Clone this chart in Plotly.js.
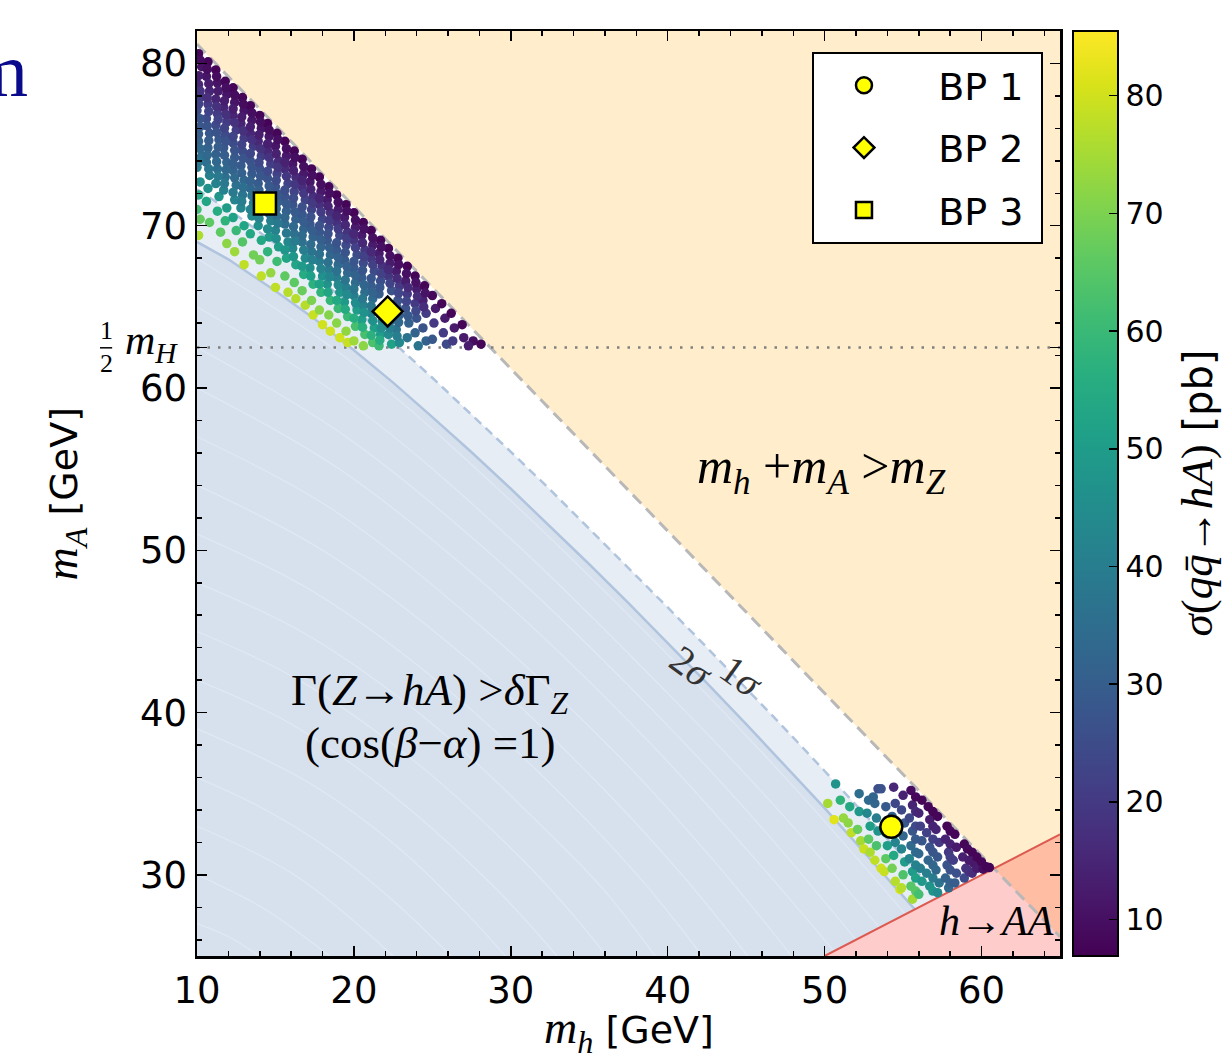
<!DOCTYPE html>
<html><head><meta charset="utf-8">
<script src="https://cdn.plot.ly/plotly-3.0.1.min.js"></script>
<style>html,body{margin:0;padding:0;background:#fff;} #chart{width:1232px;height:1064px;}</style>
</head><body><div id="chart"></div>
<script>
// ---------------- data ----------------
// allowed scan points, upper cluster (m_h, m_A in GeV; sigma in pb)
const topMh = [
10.1,10.3,10.1,10.2,10.0,10.2,10.1,10.3,10.0,10.2,10.1,10.0,10.2,10.1,
10.7,10.6,10.8,10.7,10.6,10.8,10.7,10.6,10.8,10.7,10.6,10.8,
11.2,11.3,11.2,11.3,11.2,11.4,11.2,11.3,11.2,11.4,11.3,11.5,
11.8,11.9,11.7,11.9,11.8,11.7,11.9,11.8,11.7,11.9,11.8,11.9,
12.3,12.4,12.3,12.5,12.3,12.4,12.3,12.5,12.4,12.3,12.5,12.4,
12.9,13.0,12.8,13.0,12.9,12.8,13.0,12.9,12.8,13.0,12.9,13.0,
13.4,13.5,13.4,13.6,13.4,13.5,13.4,13.6,13.5,13.4,13.6,
14.0,14.1,13.9,14.1,14.0,13.9,14.1,14.0,13.9,14.1,14.0,14.1,
14.5,14.6,14.5,14.7,14.5,14.6,14.5,14.7,14.6,14.5,14.7,
15.1,15.0,15.2,15.1,15.0,15.2,15.1,15.0,15.2,15.1,15.0,
15.6,15.7,15.6,15.8,15.6,15.7,15.6,15.8,15.7,15.6,15.8,
16.2,16.1,16.3,16.2,16.1,16.3,16.2,16.1,16.3,16.2,16.3,
16.7,16.8,16.7,16.9,16.7,16.8,16.7,16.9,16.8,16.7,16.9,
17.3,17.2,17.4,17.3,17.2,17.4,17.3,17.2,17.4,17.3,17.4,
17.8,17.9,17.8,18.0,17.8,17.9,17.8,18.0,17.9,17.8,18.0,
18.4,18.3,18.5,18.4,18.3,18.5,18.4,18.3,18.5,18.4,18.5,
18.9,19.0,18.9,19.1,18.9,19.0,18.9,19.1,19.0,18.9,19.1,
19.5,19.4,19.6,19.5,19.4,19.6,19.5,19.4,19.6,19.5,19.6,
20.0,20.1,20.0,20.2,20.0,20.1,20.0,20.2,20.1,20.0,
20.6,20.5,20.7,20.6,20.5,20.7,20.6,20.5,20.7,20.6,
21.1,21.2,21.1,21.3,21.1,21.2,21.1,21.3,21.2,
21.7,21.6,21.8,21.7,21.6,21.8,21.7,21.6,
22.2,22.3,22.2,22.4,22.3,22.2,22.4,
22.8,22.7,22.9,22.8,22.9,22.7,22.9,
23.4,23.3,23.4,23.3,23.5,23.4,
23.9,24.0,23.9,24.0,23.9,24.1,
24.5,24.4,24.6,24.4,24.6,
25.0,25.2,25.1,25.0,
25.6,25.8,25.7,25.9,
26.2,26.4,26.3,
26.9,27.0,
27.6,28.1,27.3,
10.2,10.1,10.2,10.1,10.2,10.1,10.2,10.1,
10.65,10.75,10.65,10.75,10.65,10.75,10.65,10.75,
11.25,11.35,11.25,11.35,11.25,11.35,11.25,11.35,
11.85,11.75,11.85,11.75,11.85,11.75,11.85,11.75,
12.4,12.3,12.4,12.3,12.4,12.3,12.4,12.3,
12.95,12.85,12.95,12.85,12.95,12.85,12.95,12.85,
13.5,13.4,13.5,13.4,13.5,13.4,13.5,13.4,
14.05,13.95,14.05,13.95,14.05,13.95,14.05,13.95,
14.6,14.5,14.6,14.5,14.6,14.5,14.6,14.5,
15.15,15.05,15.15,15.05,15.15,15.05,15.15,15.05,
15.7,15.6,15.7,15.6,15.7,15.6,15.7,15.6,
16.25,16.15,16.25,16.15,16.25,16.15,16.25,16.15,
16.8,16.7,16.8,16.7,16.8,16.7,16.8,16.7,
17.35,17.25,17.35,17.25,17.35,17.25,17.35,17.25,
17.9,17.8,17.9,17.8,17.9,17.8,17.9,17.8,
18.45,18.35,18.45,18.35,18.45,18.35,18.45,18.35,
19.0,18.9,19.0,18.9,19.0,18.9,19.0,18.9,
19.55,19.45,19.55,19.45,19.55,19.45,19.55,19.45,
20.1,20.0,20.1,20.0,20.1,20.0,20.1,20.0,
20.65,20.55,20.65,20.55,20.65,20.55,20.65,20.55,
21.2,21.1,21.2,21.1,21.2,21.1,21.2,21.1,
21.75,21.65,21.75,21.65,21.75,21.65,
22.3,22.2,22.3,22.3,
22.85,22.75,22.85,22.75,22.85,22.75,
23.35,23.45,23.35,23.45,
23.95,24.05,23.95,
24.55,24.45];
const topMA = [
80.6,79.8,78.7,77.9,77.1,76.1,75.2,74.3,73.6,72.7,71.9,71.0,70.4,69.4,
80.1,79.2,78.3,77.5,76.6,75.7,74.8,73.9,73.1,72.3,71.5,70.2,
79.6,78.8,77.8,76.9,76.2,75.3,74.4,73.5,72.6,71.8,70.9,69.6,
78.9,78.1,77.3,76.4,75.6,74.8,73.9,73.0,72.2,71.1,70.3,68.9,
78.5,77.6,76.8,75.9,75.1,74.2,73.4,72.5,71.6,70.5,69.7,68.4,
77.9,77.1,76.3,75.4,74.6,73.7,72.8,71.9,71.1,70.0,69.0,67.6,
77.4,76.5,75.7,74.9,74.0,73.2,72.3,71.4,70.6,69.5,68.2,
76.8,76.0,75.2,74.3,73.5,72.6,71.8,70.9,70.0,69.1,67.9,66.9,
76.3,75.5,74.6,73.8,72.9,72.0,71.2,70.3,69.3,68.4,67.1,
75.7,74.9,74.0,73.2,72.4,71.5,70.6,69.7,68.7,67.8,66.2,
75.2,74.3,73.5,72.6,71.8,70.9,70.1,69.0,68.0,66.9,65.9,
74.6,73.8,73.0,72.1,71.3,70.4,69.5,68.6,67.6,66.5,65.5,
74.1,73.2,72.4,71.6,70.7,69.8,69.0,68.0,67.0,66.0,65.1,
73.5,72.7,71.8,71.0,70.1,69.3,68.4,67.4,66.4,65.4,64.5,
73.0,72.1,71.3,70.4,69.6,68.7,67.8,66.9,65.9,64.8,63.9,
72.4,71.6,70.8,69.9,69.1,68.2,67.3,66.4,65.4,64.5,63.5,
71.9,71.0,70.2,69.4,68.5,67.6,66.8,65.9,64.9,64.0,63.1,
71.3,70.5,69.6,68.8,67.9,67.1,66.2,65.3,64.4,63.5,62.8,
70.8,69.9,69.1,68.2,67.4,66.5,65.7,64.8,63.8,62.9,
70.2,69.4,68.5,67.7,66.8,65.9,65.1,64.2,63.3,62.6,
69.7,68.8,68.0,67.2,66.3,65.5,64.6,63.7,62.8,
69.1,68.3,67.5,66.6,65.8,64.1,63.3,62.6,
68.6,67.7,66.9,66.0,64.1,63.3,62.7,
68.0,67.2,66.3,65.4,64.5,63.6,62.8,
67.5,66.6,65.8,64.9,64.0,63.1,
66.9,66.1,65.2,64.3,63.4,62.6,
66.3,65.4,64.6,63.7,62.9,
65.7,64.9,64.0,63.0,
65.2,64.3,63.4,62.7,
64.6,63.7,62.9,
63.9,63.1,
62.9,62.7,62.6,
80.2,79.25,78.3,77.5,76.6,75.65,74.75,73.95,
79.65,78.75,77.9,77.05,76.15,75.25,74.35,73.5,
79.2,78.3,77.35,76.55,75.75,74.85,73.95,73.05,
78.5,77.7,76.85,76.0,75.2,74.35,73.45,72.6,
78.05,77.2,76.35,75.5,74.65,73.8,72.95,72.05,
77.5,76.7,75.85,75.0,74.15,73.25,72.35,71.5,
76.95,76.1,75.3,74.45,73.6,72.75,71.85,71.0,
76.4,75.6,74.75,73.9,73.05,72.2,71.35,70.45,
75.9,75.05,74.2,73.35,72.45,71.6,70.75,69.8,
75.3,74.45,73.6,72.8,71.95,71.05,70.15,69.2,
74.75,73.9,73.05,72.2,71.35,70.5,69.55,68.5,
74.2,73.4,72.55,71.7,70.85,69.95,69.05,68.1,
73.65,72.8,72.0,71.15,70.25,69.4,68.5,67.5,
73.1,72.25,71.4,70.55,69.7,68.85,67.9,66.9,
72.55,71.7,70.85,70.0,69.15,68.25,67.35,66.4,
72.0,71.2,70.35,69.5,68.65,67.75,66.85,65.9,
71.45,70.6,69.8,68.95,68.05,67.2,66.35,65.4,
70.9,70.05,69.2,68.35,67.5,66.65,65.75,64.85,
70.35,69.5,68.65,67.8,66.95,66.1,65.25,64.3,
69.8,68.95,68.1,67.25,66.35,65.5,64.65,63.75,
69.25,68.4,67.6,66.75,65.9,65.05,64.15,63.25,
68.7,67.9,67.05,66.2,63.7,62.95,
68.15,67.3,66.45,63.7,
67.6,66.75,65.85,64.95,64.05,63.2,
67.05,66.2,65.35,64.45,
66.5,65.65,64.75,
65.85,65.0];
const topSigma = [
7.9,10.8,15.4,20.5,24.3,28.3,31.8,35.3,40.6,46,53,61,67,76,
7.7,11.1,14.8,19.8,24.7,28.3,31.4,35.3,40.6,46.5,53,66,
7.6,10.8,14.8,20.5,24.3,28.3,31.4,35.3,41.7,48,55.5,66,
8.0,11.2,14.8,20.5,25,28.3,31.8,35.7,41.3,50,58,72,
7.6,11.2,14.8,20.5,25,28.6,31.8,36,42,52,60,74,
7.9,11.1,14.8,20.5,25,29,32.8,37.4,43,53,64.5,78,
7.6,11.5,15.4,20.5,26.5,29,32.8,39.2,44,54,68.5,
7.9,11.2,15.4,21.3,26.5,29.3,33.2,39.2,46,54,68.5,78,
7.6,11.2,15.7,21.3,26.9,30.4,33.9,40.6,49,58,73,
7.9,11.5,16.3,22,26.9,30.4,35,41.7,50,61,78,
7.6,11.8,16,22.8,27.3,30.7,35,43,53,66,77,
7.9,11.5,16,22.8,27.3,31.1,36,43,53,66,77,
7.6,12,16.8,22.8,28.2,31.8,36,44,55.5,67.5,77,
7.9,11.8,17.5,22.8,28.3,31.8,37,46,57,70,79,
7.6,12.1,17.5,23.5,28.3,32.5,39.2,46.5,58,72,80,
7.9,12.1,17.2,23.5,28.3,32.8,39.2,47,59,71,80,
7.6,12.4,17.5,23.5,28.6,33.2,40,48,60,71.5,80,
7.9,12.3,18.3,24.3,29,33.2,40.6,49,60,72.5,79,
7.6,12.6,18.3,25,29,33.9,40.6,50,62.5,74,
7.9,12.4,19,25,29.7,35,41.7,51,62.5,72,
7.6,12.7,19,25,29.7,34.3,41.7,51,63.5,
7.9,12.6,18.3,25.8,29.7,41.7,50,60,
7.6,13,19,26.5,36.7,44.5,52,
7.9,12.6,19.8,26.7,30.7,36.7,44,
7.6,13,19.8,26.7,31.1,37,
7.9,13,20.2,27.2,31.6,37,
7.9,13.8,20.5,27.3,31.4,
8.2,12.4,19.8,28.3,
7.9,12.6,20.5,25,
7.9,12.6,20.5,
7.9,12.6,
9.3,7.9,13,
9.3,13,18,22.3,26.9,30,33.5,37.8,
9.4,13,17.2,22.2,27,29.8,33.3,37.8,
9.1,12.7,17.7,22.3,26.9,29.8,33.3,38.5,
9.6,13,17.7,22.8,27.1,30,33.6,38.5,
9.4,13,17.7,22.8,27.3,30.1,33.9,39,
9.4,13,17.7,22.8,27.5,30.9,35.1,40,
9.6,13.5,18,23.5,27.9,30.9,36,41.3,
9.6,13.3,18.3,23.8,28.2,31.2,36.1,42,
9.4,13.5,18.4,24.3,28.6,32.1,37,44.5,
9.7,13.9,19.2,24.6,28.6,32.6,38.3,45.7,
9.7,13.9,19.3,25.3,29,32.8,38.8,48,
9.7,13.8,19.3,25.3,29.1,33.5,39.3,48,
9.7,14.4,19.8,26.1,29.8,33.9,39.8,49.7,
9.9,14.7,20.1,26.5,30,34.4,40.9,51.5,
9.9,14.8,20.5,26.7,30.4,35.8,42.2,52,
10,14.7,20.4,26.7,30.5,36,42.5,53,
10,15,20.5,26.9,30.9,36.5,43.5,54,
10,15.3,21.3,27.3,31.1,36.8,44.5,54.5,
10,15.4,21.6,27.5,31.4,37.2,45,56,
10.1,15.7,22,27.9,32.3,38.3,46.2,56.7,
10.1,15.9,22,27.9,31.9,37.9,46.2,57,
10.1,15.4,22,28.2,45.7,55,
10.3,16,22.8,40.3,
10.1,16.2,23.4,28.7,33.6,40.1,
10.3,16.3,23.4,28.9,
10.4,16.6,24,
10.8,17.1];

// allowed scan points, lower cluster
const lowMh = [
50.2,50.6,50.7, 51.0,51.2, 51.6,51.5,51.7,
52.2,52.2,52.1,52.3,52.5, 52.8,52.7,52.9,52.8,52.9,
53.4,53.2,53.3,53.4,53.3,53.2,53.6,53.1,
53.9,53.9,54.0,53.9,53.8,53.6,
54.4,54.5,54.3,54.5,54.4,54.3,54.5,54.8,
55.0,54.9,55.1,55.0,54.9,55.1,55.0,54.9,
55.5,55.6,55.4,55.6,55.5,55.4,55.6,55.5,55.6,
55.8,55.8,55.8,55.8,55.8,55.8,55.8,55.8,
56.2,56.0,56.1,56.2,56.0,56.1,56.2,56.0,
56.6,56.7,56.5,56.7,56.6,56.5,56.7,
56.9,56.9,56.9,56.9,56.9,56.9,56.9,
57.2,57.1,57.3,57.2,57.1,57.3,57.2,
57.8,57.7,57.9,57.8,57.7,57.9,
58.0,58.0,58.0,58.0,58.0,
58.3,58.4,58.2,58.4,58.3,
58.9,58.8,59.0,58.9,
59.1,59.2,59.2,
59.4,59.5,59.4,
59.7,59.7,
60.0,60.1,60.3,60.5];
const lowMA = [
34.4,33.4,35.6, 34.6,33.5, 34.2,33.2,32.6,
35.0,33.9,32.8,32.1,31.6, 34.6,33.8,33.0,32.2,31.4,
35.3,34.4,33.5,32.7,31.8,30.9,30.4,34.8,
34.2,32.6,31.8,31.0,30.2,35.3,
35.4,34.4,33.6,32.0,31.2,30.4,29.6,29.1,
34.9,34.0,33.2,32.4,31.6,30.8,30.0,29.2,
35.2,34.3,33.5,32.7,31.8,31.0,30.2,29.3,28.5,
34.8,33.9,33.0,32.2,31.4,30.6,29.8,29.0,
34.6,33.8,33.0,32.1,31.3,30.4,29.6,28.8,
34.2,33.4,32.6,31.7,30.9,30.1,29.3,
33.9,33.0,32.2,31.4,30.6,29.8,29.0,
33.6,32.8,32.0,31.1,30.3,29.5,28.9,
33.0,32.2,31.4,30.6,29.8,29.2,
32.7,31.9,31.1,30.3,29.5,
32.5,31.7,30.9,30.1,29.5,
31.9,31.1,30.4,29.8,
31.6,30.9,30.2,
31.4,30.7,30.1,
31.1,30.4,
30.8,30.35,30.5,30.45];
const lowSigma = [
75,82,47, 58,73, 54,72,78,
35.3,49,67.5,75,79, 34.3,43,51,66,76,
25.8,32.5,40,47,63,78,80,32.1,
29,42,51,66,79,26.5,
15.4,23.5,30.4,42,54,69,77,80,
14.5,23.5,28.2,33.2,42,50,63.5,77,
9.3,14.5,23.5,27.7,33.9,42,50,65,75,
8.5,16,24.3,29,34.3,41.7,52,65,
7.9,14.8,22,27.7,33.5,40.6,49,62,
7.9,12.6,22,27.3,32.5,40.6,47,
7.9,14.5,22,27.7,32.5,39.2,48,
7.9,14.5,19.8,27.7,32.8,36.7,44,
7.9,14.5,19.8,26.9,31.4,33.9,
8.2,14.5,21.3,27.3,31.4,
7.9,12.6,21.3,26.2,29.7,
7.9,13.8,18.3,24.3,
8.2,12.6,18.3,
7.9,11.8,16.8,
7.9,12.6,
7.9,9.7,7.9,7.5];

// benchmark points
const bpNames = ['BP 1', 'BP 2', 'BP 3'];
const bpSymbols = ['circle', 'diamond', 'square'];
const bpMh = [54.25, 22.15, 14.33];
const bpMA = [32.96, 64.72, 71.37];

// exclusion boundaries
const kinMh = [10, 65];            // m_h + m_A = m_Z
const kinMA = [81.19, 26.19];
const aaMh = [50, 65];             // m_A = m_h / 2
const aaMA = [25, 32.5];
const halfMH = 62.5;               // m_A = m_H / 2
const sig2Mh = [10,12,15,17.5,20,22.5,25,27.5,30,32.5,35,37.5,40,42.5,45,47.5,50,52,54,55.75];
const sig2MA = [69.0,67.93,65.98,64.25,62.33,60.33,58.21,56.04,53.79,51.49,49.14,46.74,44.30,41.82,39.29,36.71,34.11,31.96,29.79,27.87];
const sig1Mh = [10,12.5,15,17.5,20,22.5,25,27.5,30,32.5,35,37.5,40,42.5,45,47.5,50,52.5,55,57.3];
const sig1MA = [72.24,70.66,68.89,66.98,64.92,62.82,60.63,58.38,56.07,53.74,51.34,48.93,46.48,44.01,41.50,38.97,36.40,33.80,31.16,28.65];
// faint level seams inside the excluded region
const seamMh = [
  [10,12,13.95], [10,14.3,18.45], [10,16.2,22.5], [10,14,18.4,22.4,26.2], [10,17,22.8,27.4,29.65],
  [10,16,22.6,29.1,32.95], [10,16.5,24,30.84,34,36.1], [10,17,25,32.5,36,39.2], [10,17.5,26,34.1,38.5,42.2],
  [10,18,27,35.6,41,45.1], [10,18.5,28,37.1,43,47.9], [10,19,29,38.5,45,50.6], [10,19.5,29.5,39.6,46,52],
  [10,20,30,40.6,47,53.5], [10,20,30,41.8,48,55.15]];
const seamMA = [
  [27,26.2,25], [30,27.9,25], [33,30,25], [36,34.2,31.6,28.5,25], [39,35.75,31.7,27.4,25],
  [42,39.3,34.8,29.1,25], [45,42,36.9,30.84,27.5,25], [48,44.8,39.3,32.5,29,25], [51,47.4,41.4,34.1,29.5,25],
  [54,50,43.5,35.6,29.9,25], [57,52.6,45.4,37.1,30.8,25], [60,55.05,47.35,38.5,31.6,25.3], [62.5,57,49.1,39.6,32.9,26],
  [65,58.9,50.7,40.6,34.05,26.75], [68,61.5,53.05,41.8,35.45,27.58]];

const xRange = [10, 65];
const yRange = [25, 82];
const xTicks = [10, 20, 30, 40, 50, 60];
const yTicks = [30, 40, 50, 60, 62.5, 70, 80];
const yTickText = ['30', '40', '50', '60', '', '70', '80'];
const sigmaRange = [6.9, 85.5];
const cbTicks = [10, 20, 30, 40, 50, 60, 70, 80];

// ---------------- figure ----------------
const SERIF = 'Liberation Serif';
const SANS = 'DejaVu Sans';
const noHover = {hoverinfo: 'skip', showlegend: false};

const traces = [];
traces.push(Object.assign({type: 'scatter', mode: 'none', fill: 'toself', fillcolor: '#ffedcc',
  x: [kinMh[0], kinMh[1], xRange[1], kinMh[0]], y: [kinMA[0], kinMA[1], yRange[1], yRange[1]]}, noHover));
traces.push(Object.assign({type: 'scatter', mode: 'none', fill: 'toself', fillcolor: '#d7e1ee',
  x: [xRange[0]].concat(sig2Mh, [aaMh[0], xRange[0]]), y: [yRange[0]].concat(sig2MA, [aaMA[0], yRange[0]])}, noHover));
for (let i = 0; i < seamMh.length; i++) {
  traces.push(Object.assign({type: 'scatter', mode: 'lines', x: seamMh[i], y: seamMA[i],
    line: {color: '#e0e8f3', width: 1.2, shape: 'spline', smoothing: 1}}, noHover));
}
traces.push(Object.assign({type: 'scatter', mode: 'none', fill: 'toself', fillcolor: '#e7edf5',
  x: sig1Mh.concat(sig2Mh.slice().reverse()), y: sig1MA.concat(sig2MA.slice().reverse())}, noHover));
traces.push(Object.assign({type: 'scatter', mode: 'none', fill: 'toself', fillcolor: 'rgba(255,0,0,0.2)',
  x: [aaMh[0], aaMh[1], aaMh[1]], y: [aaMA[0], aaMA[1], yRange[0]]}, noHover));
traces.push(Object.assign({type: 'scatter', mode: 'lines', x: sig2Mh, y: sig2MA,
  line: {color: '#b0c4de', width: 2.5}}, noHover));
traces.push(Object.assign({type: 'scatter', mode: 'lines', x: sig1Mh, y: sig1MA,
  line: {color: '#b0c4de', width: 2.5, dash: '9px,6px'}}, noHover));
traces.push(Object.assign({type: 'scatter', mode: 'lines', x: kinMh, y: kinMA,
  line: {color: '#b8b8b8', width: 3, dash: '12px,7px'}}, noHover));
traces.push(Object.assign({type: 'scatter', mode: 'lines', x: aaMh, y: aaMA,
  line: {color: '#dc5a50', width: 2}}, noHover));
traces.push(Object.assign({type: 'scatter', mode: 'lines', x: xRange, y: [halfMH, halfMH],
  line: {color: '#808080', width: 2.5, dash: '2.5px,8px'}}, noHover));

const markerBase = {colorscale: 'Viridis', cmin: sigmaRange[0], cmax: sigmaRange[1], size: 9.5, line: {width: 0}};
traces.push(Object.assign({type: 'scatter', mode: 'markers', x: topMh, y: topMA,
  marker: Object.assign({}, markerBase, {color: topSigma, showscale: true,
    colorbar: {x: 1.0151, xanchor: 'left', xpad: 0, ypad: 0, y: 0.5, yanchor: 'middle', len: 1, lenmode: 'fraction',
      thickness: 45, outlinewidth: 2, outlinecolor: '#000', ticks: 'inside', ticklen: 10, tickwidth: 1.5, tickcolor: '#000',
      tickvals: cbTicks, tickfont: {size: 30, family: SANS, color: '#000'}}})}, noHover));
traces.push(Object.assign({type: 'scatter', mode: 'markers', x: lowMh, y: lowMA,
  marker: Object.assign({}, markerBase, {color: lowSigma, showscale: false})}, noHover));

const bpSizes = [22, 23, 22];
for (let i = 0; i < bpNames.length; i++) {
  traces.push({type: 'scatter', mode: 'markers', name: '\u00a0\u00a0' + bpNames[i] + '\u00a0', legendgroup: 'g' + i,
    x: [bpMh[i]], y: [bpMA[i]], hoverinfo: 'skip',
    marker: {symbol: bpSymbols[i], size: bpSizes[i], color: '#ffff00', line: {color: '#000', width: 2.5}}});
}

const axisCommon = {
  showgrid: false, zeroline: false, showline: true, linewidth: 2.5, linecolor: '#000', mirror: 'ticks',
  ticks: 'inside', ticklen: 10, tickwidth: 1.5, tickcolor: '#000',
  tickfont: {size: 37, family: SANS, color: '#000'},
  minor: {tickmode: 'linear', tick0: 0, dtick: 2, ticks: 'inside', ticklen: 5, tickwidth: 1.5, tickcolor: '#000'}
};

const annotations = [
  {xref: 'x', yref: 'y', x: 49.8, y: 54.96, showarrow: false, font: {family: SERIF, size: 50, color: '#000'},
   text: '<i>m</i><sub><i>h</i></sub> +<i>m</i><sub><i>A</i></sub> ><i>m</i><sub><i>Z</i></sub>'},
  {xref: 'x', yref: 'y', x: 24.84, y: 41.2, showarrow: false, font: {family: SERIF, size: 45, color: '#000'},
   text: 'Γ(<i>Z</i>→<i>hA</i>) ><i>δ</i>Γ<sub><i>Z</i></sub>'},
  {xref: 'x', yref: 'y', x: 24.9, y: 38.12, showarrow: false, font: {family: SERIF, size: 45, color: '#000'},
   text: '(cos(<i>β</i>−<i>α</i>) =1)'},
  {xref: 'x', yref: 'y', x: 41.5, y: 42.85, showarrow: false, textangle: 36, font: {family: SERIF, size: 40, color: '#333'},
   text: '2<i>σ</i>'},
  {xref: 'x', yref: 'y', x: 44.7, y: 42.25, showarrow: false, textangle: 36, font: {family: SERIF, size: 40, color: '#333'},
   text: '1<i>σ</i>'},
  {xref: 'x', yref: 'y', x: 60.96, y: 27.18, showarrow: false, font: {family: SERIF, size: 42, color: '#000'},
   text: '<i>h</i>→<i>AA</i>'},
  // 1/2 m_H label beside the axis
  {xref: 'paper', yref: 'paper', x: -0.1054, y: 0.6766, xanchor: 'center', yanchor: 'middle', showarrow: false,
   font: {family: SERIF, size: 26, color: '#000'}, text: '1'},
  {xref: 'paper', yref: 'paper', x: -0.1054, y: 0.6405, xanchor: 'center', yanchor: 'middle', showarrow: false,
   font: {family: SERIF, size: 26, color: '#000'}, text: '2'},
  {xref: 'paper', yref: 'y', x: -0.0197, y: 62.75, xanchor: 'right', yanchor: 'middle', showarrow: false,
   font: {family: SERIF, size: 42, color: '#000'}, text: '<i>m</i><sub><i>H</i></sub>'},
  {xref: 'paper', yref: 'paper', x: 0.5, y: -0.0806, xanchor: 'center', yanchor: 'middle', showarrow: false,
   font: {family: SANS, size: 38, color: '#000'},
   text: '<span style="font-family:Liberation Serif;font-size:46px"><i>m</i><sub><i>h</i></sub></span> [GeV]'},
  {xref: 'paper', yref: 'paper', x: -0.153, y: 0.5, xanchor: 'center', yanchor: 'middle', textangle: -90, showarrow: false,
   font: {family: SANS, size: 38, color: '#000'},
   text: '<span style="font-family:Liberation Serif;font-size:46px"><i>m</i><sub><i>A</i></sub></span> [GeV]'},
  {xref: 'paper', yref: 'paper', x: 1.1576, y: 0.5, xanchor: 'center', yanchor: 'middle', textangle: -90, showarrow: false,
   font: {family: SANS, size: 40, color: '#000'},
   text: '<span style="font-family:Liberation Serif;font-size:45px"><i>σ</i>(<i>q</i><i>q̄</i>→<i>hA</i>)</span> [pb]'},
  {xref: 'paper', yref: 'paper', x: -0.193, y: 0.9578, xanchor: 'right', yanchor: 'middle', showarrow: false,
   font: {family: SERIF, size: 76, color: '#0a0a8c'}, text: 'm'}
];

const shapes = [
  {type: 'line', xref: 'paper', yref: 'paper', x0: -0.1124, x1: -0.0983, y0: 0.6575, y1: 0.6575,
   line: {color: '#000', width: 1.5}}
];

const layout = {
  width: 1232, height: 1064,
  margin: {l: 197, r: 172, t: 31, b: 108, pad: 0},
  paper_bgcolor: '#fff', plot_bgcolor: '#fff',
  font: {family: SANS, color: '#000'},
  showlegend: true,
  legend: {x: 0.7126, y: 0.9773, xanchor: 'left', yanchor: 'top', bgcolor: '#fff', bordercolor: '#000', borderwidth: 2,
    font: {family: SANS, size: 38, color: '#000'}, itemwidth: 90, tracegroupgap: 10},
  xaxis: Object.assign({}, axisCommon, {range: xRange, tickmode: 'array', tickvals: xTicks}),
  yaxis: Object.assign({}, axisCommon, {range: yRange, tickmode: 'array', tickvals: yTicks, ticktext: yTickText}),
  annotations: annotations,
  shapes: shapes,
  hovermode: false
};

Plotly.newPlot('chart', traces, layout, {staticPlot: true, displayModeBar: false});
</script>
</body></html>
